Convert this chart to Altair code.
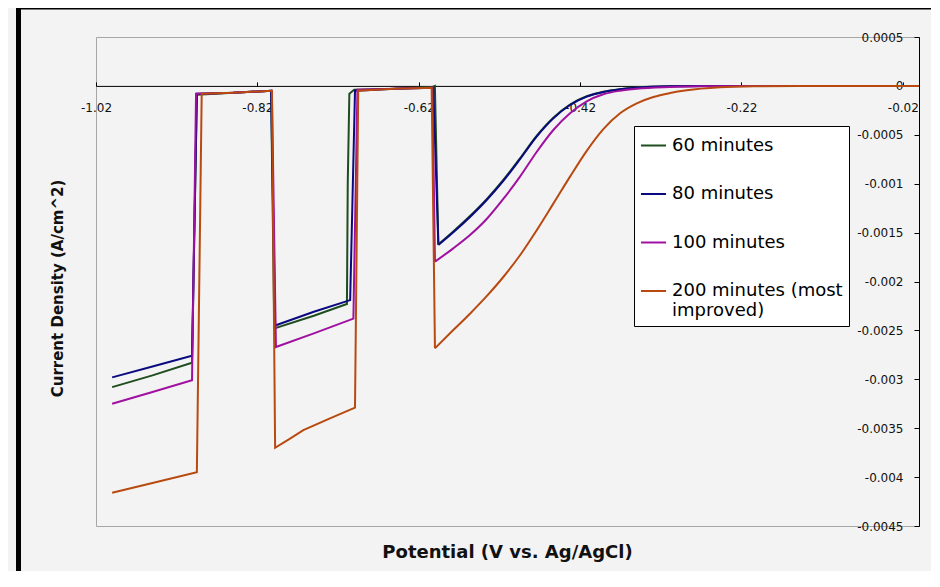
import altair as alt
import pandas as pd

SERIES = ["60 minutes", "80 minutes", "100 minutes", "200 minutes (most improved)"]
COLORS = ["#1e4d1e", "#0a0a80", "#a010a0", "#b84a10"]
WIDTHS = [2.0, 2.0, 1.5, 1.5]

# 60 minutes
x60 = [-1.000, -0.950, -0.901, -0.895, -0.850, -0.803, -0.799, -0.750, -0.709, -0.708, -0.706, -0.700,
       -0.650, -0.603, -0.600,
       -0.5957, -0.5772, -0.5565, -0.5358, -0.5152, -0.4945, -0.4739, -0.4532, -0.4325, -0.4118,
       -0.3912, -0.3705, -0.3498, -0.3085, -0.250, -0.062]
y60 = [-0.00308, -0.00296, -0.00283, -0.00009, -0.00007, -0.00005, -0.00248, -0.00235, -0.00223, -0.00100,
       -0.00008, -0.00004, -0.00003, -0.00001, 0.0,
       -0.001620, -0.001488, -0.001331, -0.001158, -0.000962, -0.000740, -0.000511, -0.000325, -0.000190,
       -0.000106, -0.000059, -0.000033, -0.000017, -0.000004, 0.0, 0.0]

# 80 minutes
x80 = [-1.000, -0.950, -0.901, -0.895, -0.850, -0.803, -0.798, -0.750, -0.705, -0.699, -0.650, -0.602,
       -0.5957, -0.5772, -0.5565, -0.5358, -0.5152, -0.4945, -0.4739, -0.4532, -0.4325, -0.4118,
       -0.3912, -0.3705, -0.3498, -0.3085, -0.250, -0.062]
y80 = [-0.00298, -0.00287, -0.00276, -0.00008, -0.00007, -0.00005, -0.00245, -0.00231, -0.00219, -0.00005,
       -0.00003, -0.00002,
       -0.001627, -0.001497, -0.001340, -0.001167, -0.000971, -0.000749, -0.000519, -0.000332, -0.000195,
       -0.000110, -0.000062, -0.000035, -0.000018, -0.000004, 0.0, 0.0]

# 100 minutes
x100 = [-1.000, -0.950, -0.901, -0.896, -0.850, -0.802, -0.797, -0.750, -0.701, -0.696, -0.650, -0.603,
        -0.5999, -0.5772, -0.5565, -0.5358, -0.5152, -0.4945, -0.4739, -0.4532, -0.4325, -0.4118,
        -0.3912, -0.3705, -0.3498, -0.3085, -0.2673, -0.200, -0.062]
y100 = [-0.00325, -0.00313, -0.00301, -0.00008, -0.00007, -0.00005, -0.00267, -0.00253, -0.00238, -0.00004,
        -0.00003, -0.00002,
        -0.001797, -0.001661, -0.001525, -0.001361, -0.001156, -0.000928, -0.000676, -0.000451, -0.000280,
        -0.000158, -0.000086, -0.000049, -0.000028, -0.000011, -0.000004, 0.0, 0.0]

# 200 minutes (most improved)
x200 = [-1.000, -0.950, -0.895, -0.889, -0.850, -0.802, -0.798, -0.780, -0.763, -0.730, -0.699, -0.695,
        -0.650, -0.604,
        -0.5999, -0.5772, -0.5565, -0.5358, -0.5152, -0.4945, -0.4739, -0.4532, -0.4325, -0.4118,
        -0.3912, -0.3705, -0.3498, -0.3292, -0.3085, -0.2878, -0.2467, -0.2054, -0.150, 0.0]
y200 = [-0.00416, -0.00406, -0.00395, -0.00008, -0.00007, -0.00005, -0.00370, -0.00361, -0.00352, -0.00340,
        -0.00329, -0.00005, -0.00003, -0.00002,
        -0.002683, -0.002496, -0.002329, -0.002150, -0.001954, -0.001732, -0.001477, -0.001204, -0.000928,
        -0.000664, -0.000442, -0.000280, -0.000178, -0.000113, -0.000073, -0.000045, -0.000015, -0.000004,
        0.0, 0.0]

X_TICKS = [-1.02, -0.82, -0.62, -0.42, -0.22, -0.02]
Y_TICKS = [0.0005, 0, -0.0005, -0.001, -0.0015, -0.002, -0.0025, -0.003, -0.0035, -0.004, -0.0045]

rows = []
for name, xs, ys in zip(SERIES, [x60, x80, x100, x200], [y60, y80, y100, y200]):
    # the step region ends at the bottom of the last drop; the smooth sweep starts there
    tail = [i for i, xv in enumerate(xs) if xv > -0.61]
    split = min(tail, key=lambda i: ys[i])
    for i, (xv, yv) in enumerate(zip(xs, ys)):
        if i <= split:
            rows.append({"series": name, "potential": xv, "current": yv, "idx": i, "part": "steps"})
        if i >= split:
            rows.append({"series": name, "potential": xv, "current": yv, "idx": i, "part": "sweep"})
df = pd.DataFrame(rows)

W, H = 823, 489
FONT = "DejaVu Sans"

x_axis = alt.Axis(
    orient="top", offset=-H * 0.1, values=X_TICKS, labelExpr="toString(datum.value)",
    tickSize=4, tickColor="black", domainColor="black", labelPadding=-26, labelBaseline="middle",
    labelFlush=False, labelOverlap=False, labelFont=FONT, labelFontSize=12, labelColor="#111111",
    grid=False, title="Potential (V vs. Ag/AgCl)", titleX=411, titleY=467, titleAlign="center",
    titleBaseline="middle", titleFont=FONT, titleFontSize=18, titleFontWeight="bold", titleColor="#111111",
)
y_axis = alt.Axis(
    orient="left", offset=-W, values=Y_TICKS, labelExpr="toString(datum.value)",
    tickSize=5, tickColor="black", domainColor="black", labelPadding=11, labelFlush=False,
    labelOverlap=False, labelFont=FONT, labelFontSize=12, labelColor="#111111", grid=False,
    title="Current Density (A/cm^2)", titleX=-862, titleY=251, titleAngle=270, titleAlign="center",
    titleBaseline="middle", titleFont=FONT, titleFontSize=15, titleFontWeight="bold", titleColor="#111111",
)

legend = alt.Legend(
    title=None, orient="none", legendX=538, legendY=89, direction="vertical", symbolType="stroke",
    symbolSize=625, symbolStrokeWidth=2, labelFont=FONT, labelFontSize=18, labelColor="black",
    labelLimit=400, labelOffset=5, rowPadding=25.5, padding=6, fillColor="white", strokeColor="black",
    labelExpr="datum.label == '200 minutes (most improved)' ? ['200 minutes (most', 'improved)'] : datum.label",
)

xs_enc = alt.X("potential:Q", scale=alt.Scale(domain=[-1.02, 0], nice=False, zero=False), axis=x_axis)
ys_enc = alt.Y("current:Q", scale=alt.Scale(domain=[-0.0045, 0.0005], nice=False, zero=False), axis=y_axis)
col_enc = alt.Color("series:N", scale=alt.Scale(domain=SERIES, range=COLORS), legend=legend)
sw_enc = alt.StrokeWidth("series:N", scale=alt.Scale(domain=SERIES, range=WIDTHS), legend=None)

base = alt.Chart(df).encode(x=xs_enc, y=ys_enc, color=col_enc, strokeWidth=sw_enc, order="idx:Q")
steps = base.transform_filter(alt.datum.part == "steps").mark_line(interpolate="linear")
sweep = base.transform_filter(alt.datum.part == "sweep").mark_line(interpolate="monotone")

frame_df = pd.DataFrame({"k": [0]})
left_bar = alt.Chart(frame_df).mark_rule(color="black", strokeWidth=5).encode(
    x=alt.value(-77.5), y=alt.value(-29), y2=alt.value(H + 50))
top_bar = alt.Chart(frame_df).mark_rule(color="black", strokeWidth=3).encode(
    y=alt.value(-29), x=alt.value(-80), x2=alt.value(W + 14))

chart = alt.layer(left_bar, top_bar, steps, sweep).properties(
    width=W, height=H, background="#f3f3f3",
    padding={"left": 88, "top": 29, "right": 12, "bottom": 45},
    autosize=alt.AutoSizeParams(type="none"),
).configure_view(stroke="#a6a6a6", strokeWidth=1)

chart.save("out.html", embed_options={"renderer": "svg", "actions": False})
